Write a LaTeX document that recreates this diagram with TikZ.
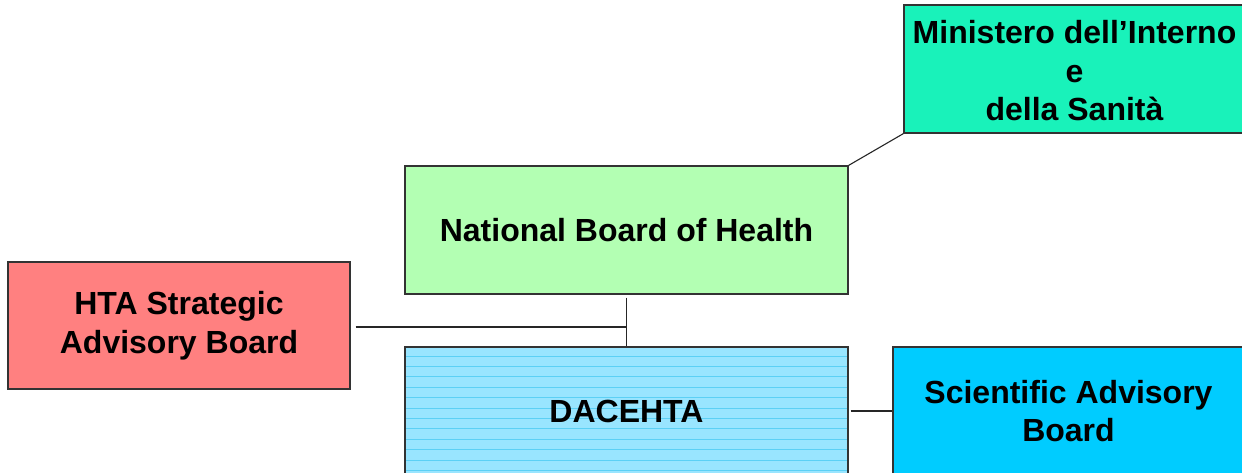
\documentclass[tikz,border=0pt]{standalone}
\usepackage{fontspec}
\setmainfont{Liberation Sans}
\definecolor{htared}{HTML}{FF8080}
\definecolor{nbhgreen}{HTML}{B3FFB3}
\definecolor{minmint}{HTML}{19F2BA}
\definecolor{sciblue}{HTML}{00CCFF}
\definecolor{dacfill}{HTML}{99E5FF}
\definecolor{dacline}{HTML}{5CD0F5}
\begin{document}
\begin{tikzpicture}[x=1pt,y=-1pt,
  boxfont/.style={font=\fontsize{32}{38.5}\selectfont\bfseries},
  box/.style={draw=black!80, line width=1.2pt, rectangle, inner sep=0pt,
    align=center, boxfont},
  conn/.style={draw=black!85, line width=1.1pt}]
\useasboundingbox (0,0) rectangle (1242,473);
\clip (0,0) rectangle (1242,473);
\fill[white] (0,0) rectangle (1242,473);
\node[box, fill=htared, minimum width=342pt, minimum height=127pt] (hta) at (179,325.5) {HTA Strategic\\Advisory Board};
\node[box, fill=nbhgreen, minimum width=443pt, minimum height=128pt] (nbh) at (626.5,230) {National Board of Health};
\node[box, fill=dacfill, minimum width=443pt, minimum height=128pt,
  path picture={\foreach \i in {0,...,12}{\draw[dacline, line width=0.7pt]
    ([yshift=-9pt-\i*10.4pt]path picture bounding box.north west) -- ++(450,0);}}]
  (dac) at (626.5,411) {};
\node[boxfont] (dact) at (dac.center) {DACEHTA};
\node[box, fill=minmint, minimum width=341pt, minimum height=128pt] (min) at (1074.5,69) {};
\node[boxfont, align=center] (mint) at ([yshift=-2pt]min.center) {Ministero dell’Interno\\e\\della Sanità};
\node[box, fill=sciblue, minimum width=351pt, minimum height=128pt] (sci) at (1068.5,411) {Scientific Advisory\\Board};
\coordinate (junc) at (nbh.south |- 0,327);
\draw[conn] ([yshift=-3pt]nbh.south) -- (dac.north);
\draw[conn] ([xshift=5pt]hta.east |- junc) -- (junc);
\draw[conn] (nbh.north east) -- (min.south west);
\draw[conn] ([xshift=2pt]dac.east) -- (sci.west);
\end{tikzpicture}
\end{document}
